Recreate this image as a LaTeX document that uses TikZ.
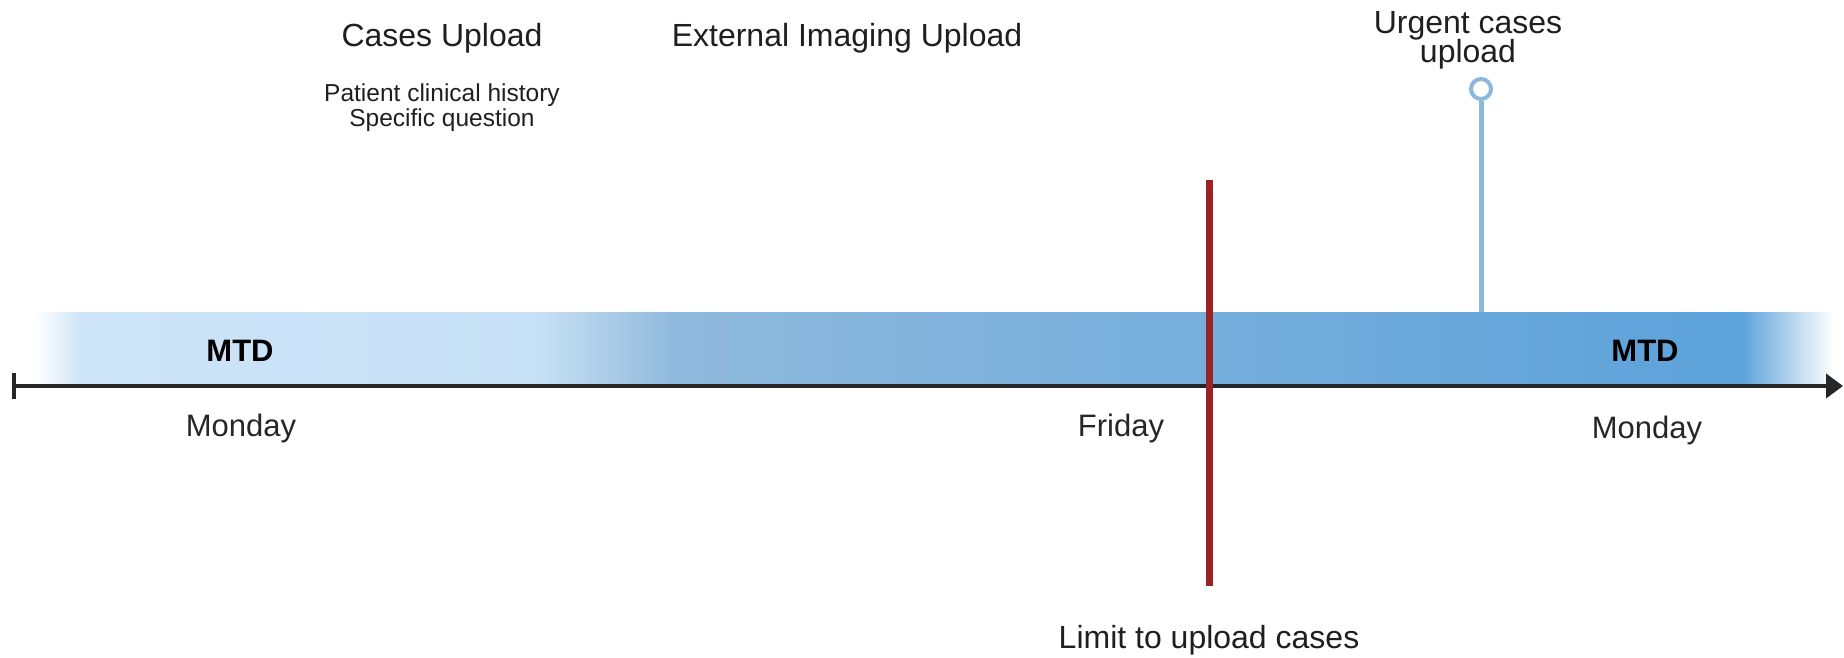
\documentclass[tikz,border=0pt]{standalone}
\usepackage{fontspec}
\setmainfont{Liberation Sans}
\usetikzlibrary{arrows.meta}
\definecolor{bandlight}{RGB}{205,228,248}
\definecolor{bandlight2}{RGB}{198,224,245}
\definecolor{bandmid}{RGB}{143,185,220}
\definecolor{banddark}{RGB}{92,162,219}
\definecolor{axisgray}{RGB}{38,38,38}
\definecolor{limitred}{RGB}{155,34,38}
\definecolor{urgentblue}{RGB}{140,184,222}
\begin{document}
\begin{tikzpicture}[x=1pt,y=-1pt,
  txt/.style={inner sep=0pt, anchor=base, text=black!88},
  bigtxt/.style={txt, font=\fontsize{32}{38}\selectfont},
  smalltxt/.style={txt, font=\fontsize{24.5}{25}\selectfont},
  daytxt/.style={txt, font=\fontsize{31}{36}\selectfont, text=axisgray},
  mtdtxt/.style={txt, font=\fontsize{31}{36}\selectfont\bfseries, text=black},
  axisline/.style={draw=axisgray, line width=4pt},
  limitline/.style={draw=limitred, line width=7pt},
  urgentline/.style={draw=urgentblue, line width=5pt},
  marker/.style={circle, draw=urgentblue, line width=4pt, fill=white, minimum size=20pt, inner sep=0pt}]
\useasboundingbox (0,0) rectangle (1844,658);

% week band: fades in, light stretch, darkening, fades out
\shade[left color=white, right color=bandlight] (35,312) rectangle (82.5,386);
\shade[left color=bandlight, right color=bandlight2] (82,312) rectangle (540.5,386);
\shade[left color=bandlight2, right color=bandmid] (540,312) rectangle (675.5,386);
\shade[left color=bandmid, right color=banddark] (675,312) rectangle (1741.5,386);
\shade[left color=banddark, right color=white] (1741,312) rectangle (1833,386);

% time axis
\coordinate (axstart) at (14,386);
\coordinate (axend) at (1843,386);
\coordinate (ticktop) at (14,373);
\coordinate (tickbot) at (14,399);
\draw[axisline] (ticktop) -- (tickbot);
\draw[axisline, -{Triangle[length=17pt,width=24pt]}] (axstart) -- (axend);

% top labels
\node[bigtxt] (cases) at (442,47) {Cases Upload};
\node[smalltxt] (hist) at (442,102) {Patient clinical history};
\node[smalltxt] (quest) at (442,127) {Specific question};
\node[bigtxt] (extimg) at (847,47) {External Imaging Upload};

% urgent upload marker
\node[bigtxt] (urg1) at (1468,34) {Urgent cases};
\node[bigtxt] (urg2) at (1468,63) {upload};
\node[marker] (urgdot) at (1481,89) {};
\coordinate (urgbase) at (1481,312);
\draw[urgentline] (urgdot.south) -- (urgbase);

% band labels
\node[mtdtxt] (mtdA) at (240,361) {MTD};
\node[mtdtxt] (mtdB) at (1645,361) {MTD};

% day labels
\node[daytxt] (monA) at (241,436) {Monday};
\node[daytxt] (fri) at (1121,436) {Friday};
\node[daytxt] (monB) at (1647,438) {Monday};

% upload deadline
\coordinate (limtop) at (1209,180);
\coordinate (limbot) at (1209,586);
\draw[limitline] (limtop) -- (limbot);
\node[bigtxt] (limit) at (1209,648) {Limit to upload cases};
\end{tikzpicture}
\end{document}
